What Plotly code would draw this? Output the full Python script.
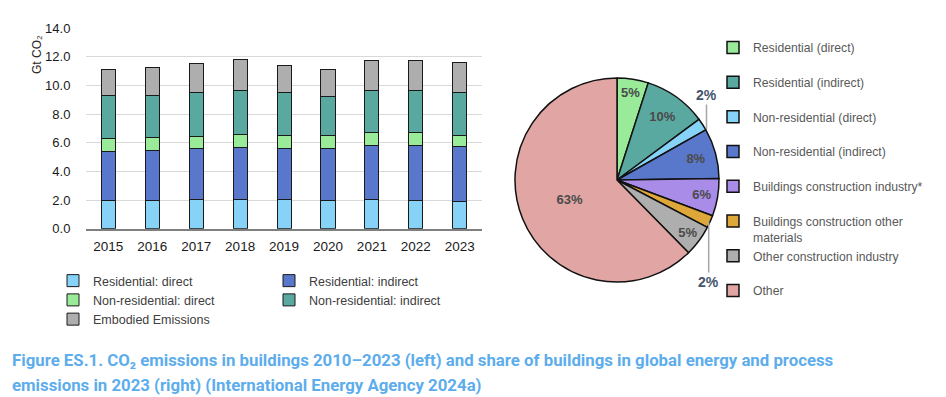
import plotly.graph_objects as go

# ---------------- data ----------------
years = ["2015", "2016", "2017", "2018", "2019", "2020", "2021", "2022", "2023"]
res_direct = [1.95, 2.00, 2.05, 2.07, 2.05, 2.00, 2.05, 2.00, 1.93]
res_indirect = [3.47, 3.47, 3.51, 3.60, 3.55, 3.60, 3.76, 3.81, 3.77]
nonres_direct = [0.88, 0.90, 0.88, 0.89, 0.91, 0.91, 0.91, 0.91, 0.81]
nonres_indirect = [2.96, 2.93, 3.05, 3.07, 2.98, 2.68, 2.95, 2.95, 3.02]
embodied = [1.83, 1.96, 2.00, 2.18, 1.91, 1.90, 2.03, 2.03, 2.03]
y_ticks = [0, 2, 4, 6, 8, 10, 12, 14]

pie_labels = [
    "Residential (direct)",
    "Residential (indirect)",
    "Non-residential (direct)",
    "Non-residential (indirect)",
    "Buildings construction industry*",
    "Buildings construction other<br>materials",
    "Other construction industry",
    "Other",
]
pie_values = [5, 10, 2, 8, 6, 2, 5, 63]

caption_1 = ("Figure ES.1. CO₂ emissions in buildings 2010–2023 (left) and share of "
             "buildings in global energy and process")
caption_2 = "emissions in 2023 (right) (International Energy Agency 2024a)"

# ---------------- styling ----------------
W, H = 946, 397
FONT = "Liberation Sans, Arial, sans-serif"

def px(x):
    return x / W

def py(y):
    return 1 - y / H

bar_series = [
    ("Residential: direct", res_direct, "#87D3F8", "legend"),
    ("Residential: indirect", res_indirect, "#5A78CB", "legend2"),
    ("Non-residential: direct", nonres_direct, "#99EB99", "legend"),
    ("Non-residential: indirect", nonres_indirect, "#5AA9A0", "legend2"),
    ("Embodied Emissions", embodied, "#AEAEAE", "legend"),
]

pie_colors = ["#99EB99", "#5AA9A0", "#87D3F8", "#5A78CB",
              "#A98CE8", "#DDA73A", "#AEAEAE", "#E1A6A3"]

fig = go.Figure()

for name, vals, color, leg in bar_series:
    fig.add_trace(go.Bar(
        x=years, y=vals, name=name, legend=leg,
        marker=dict(color=color, line=dict(color="#1a1a1a", width=1)),
        width=0.32,
    ))

pie_legend_names = [l if "<br>" in l else l + "<br> " for l in pie_labels]
pie_text = [f"{v}%" if v > 2 else "" for v in pie_values]

fig.add_trace(go.Pie(
    labels=pie_legend_names, values=pie_values, text=pie_text,
    textinfo="text", textposition="inside", insidetextorientation="horizontal",
    sort=False, direction="clockwise", rotation=0,
    marker=dict(colors=pie_colors, line=dict(color="#111111", width=1.5)),
    textfont=dict(family=FONT, size=13, color="#4a4a4a", weight="bold"),
    domain=dict(x=[px(515), px(719)], y=[py(282), py(78)]),
    legend="legend3",
))

annotations = [
    dict(text="Gt CO₂", x=px(37), y=py(55), xref="paper", yref="paper",
         xanchor="center", yanchor="middle",
         showarrow=False, textangle=-90, font=dict(family=FONT, size=12, color="#262626")),
    dict(text=f"{pie_values[2]}%", x=px(706.5), y=py(129), xref="paper", yref="paper",
         showarrow=True, arrowhead=0, arrowwidth=1.5, arrowcolor="#A6A6A6",
         ax=0, ay=-34, standoff=0,
         font=dict(family=FONT, size=14, color="#44546A", weight="bold")),
    dict(text=f"{pie_values[5]}%", x=px(708.7), y=py(222), xref="paper", yref="paper",
         showarrow=True, arrowhead=0, arrowwidth=1.5, arrowcolor="#A6A6A6",
         ax=0, ay=60, standoff=0,
         font=dict(family=FONT, size=14, color="#44546A", weight="bold")),
    dict(text=caption_1, x=px(10), y=py(360), xref="paper", yref="paper",
         xanchor="left", yanchor="middle", showarrow=False,
         font=dict(family="Roboto, sans-serif", size=16.8, color="#5DADEC", weight="bold")),
    dict(text=caption_2, x=px(10), y=py(385), xref="paper", yref="paper",
         xanchor="left", yanchor="middle", showarrow=False,
         font=dict(family="Roboto, sans-serif", size=16.8, color="#5DADEC", weight="bold")),
]

fig.update_layout(
    width=W, height=H,
    autosize=False,
    margin=dict(l=0, r=0, t=0, b=0, pad=0, autoexpand=False),
    paper_bgcolor="white", plot_bgcolor="white",
    barmode="stack",
    font=dict(family=FONT, color="#262626"),
    xaxis=dict(
        domain=[px(86.4), px(481.7)], type="category", automargin=False,
        showgrid=False, showline=True, linecolor="#7F7F7F", linewidth=1.5,
        ticks="", tickfont=dict(family=FONT, size=13.5, color="#1a1a1a"),
        ticklabelstandoff=4,
    ),
    yaxis=dict(
        domain=[py(228.7), py(28)], range=[0, 14], automargin=False,
        tickvals=y_ticks, ticktext=[f"{v:.1f}" for v in y_ticks],
        showgrid=True, gridcolor="#D9D9D9", gridwidth=1,
        zeroline=False, showline=False, ticks="",
        tickfont=dict(family=FONT, size=13, color="#1a1a1a"),
        ticklabelstandoff=15,
    ),
    legend=dict(
        x=px(53), y=py(266), xanchor="left", yanchor="top",
        orientation="v", traceorder="normal",
        font=dict(family=FONT, size=12.5, color="#404040"),
        bgcolor="rgba(0,0,0,0)", tracegroupgap=0,
    ),
    legend2=dict(
        x=px(269), y=py(266), xanchor="left", yanchor="top",
        orientation="v", traceorder="normal",
        font=dict(family=FONT, size=12.5, color="#404040"),
        bgcolor="rgba(0,0,0,0)", tracegroupgap=0,
    ),
    legend3=dict(
        x=px(713), y=py(33), xanchor="left", yanchor="top",
        orientation="v", valign="top",
        font=dict(family=FONT, size=12.2, color="#595959"),
        bgcolor="rgba(0,0,0,0)",
    ),
    annotations=annotations,
)

fig.write_html(
    "out.html",
    config={"displayModeBar": False},
    post_script="document.body.style.margin='0';document.body.style.overflow='hidden';",
)
